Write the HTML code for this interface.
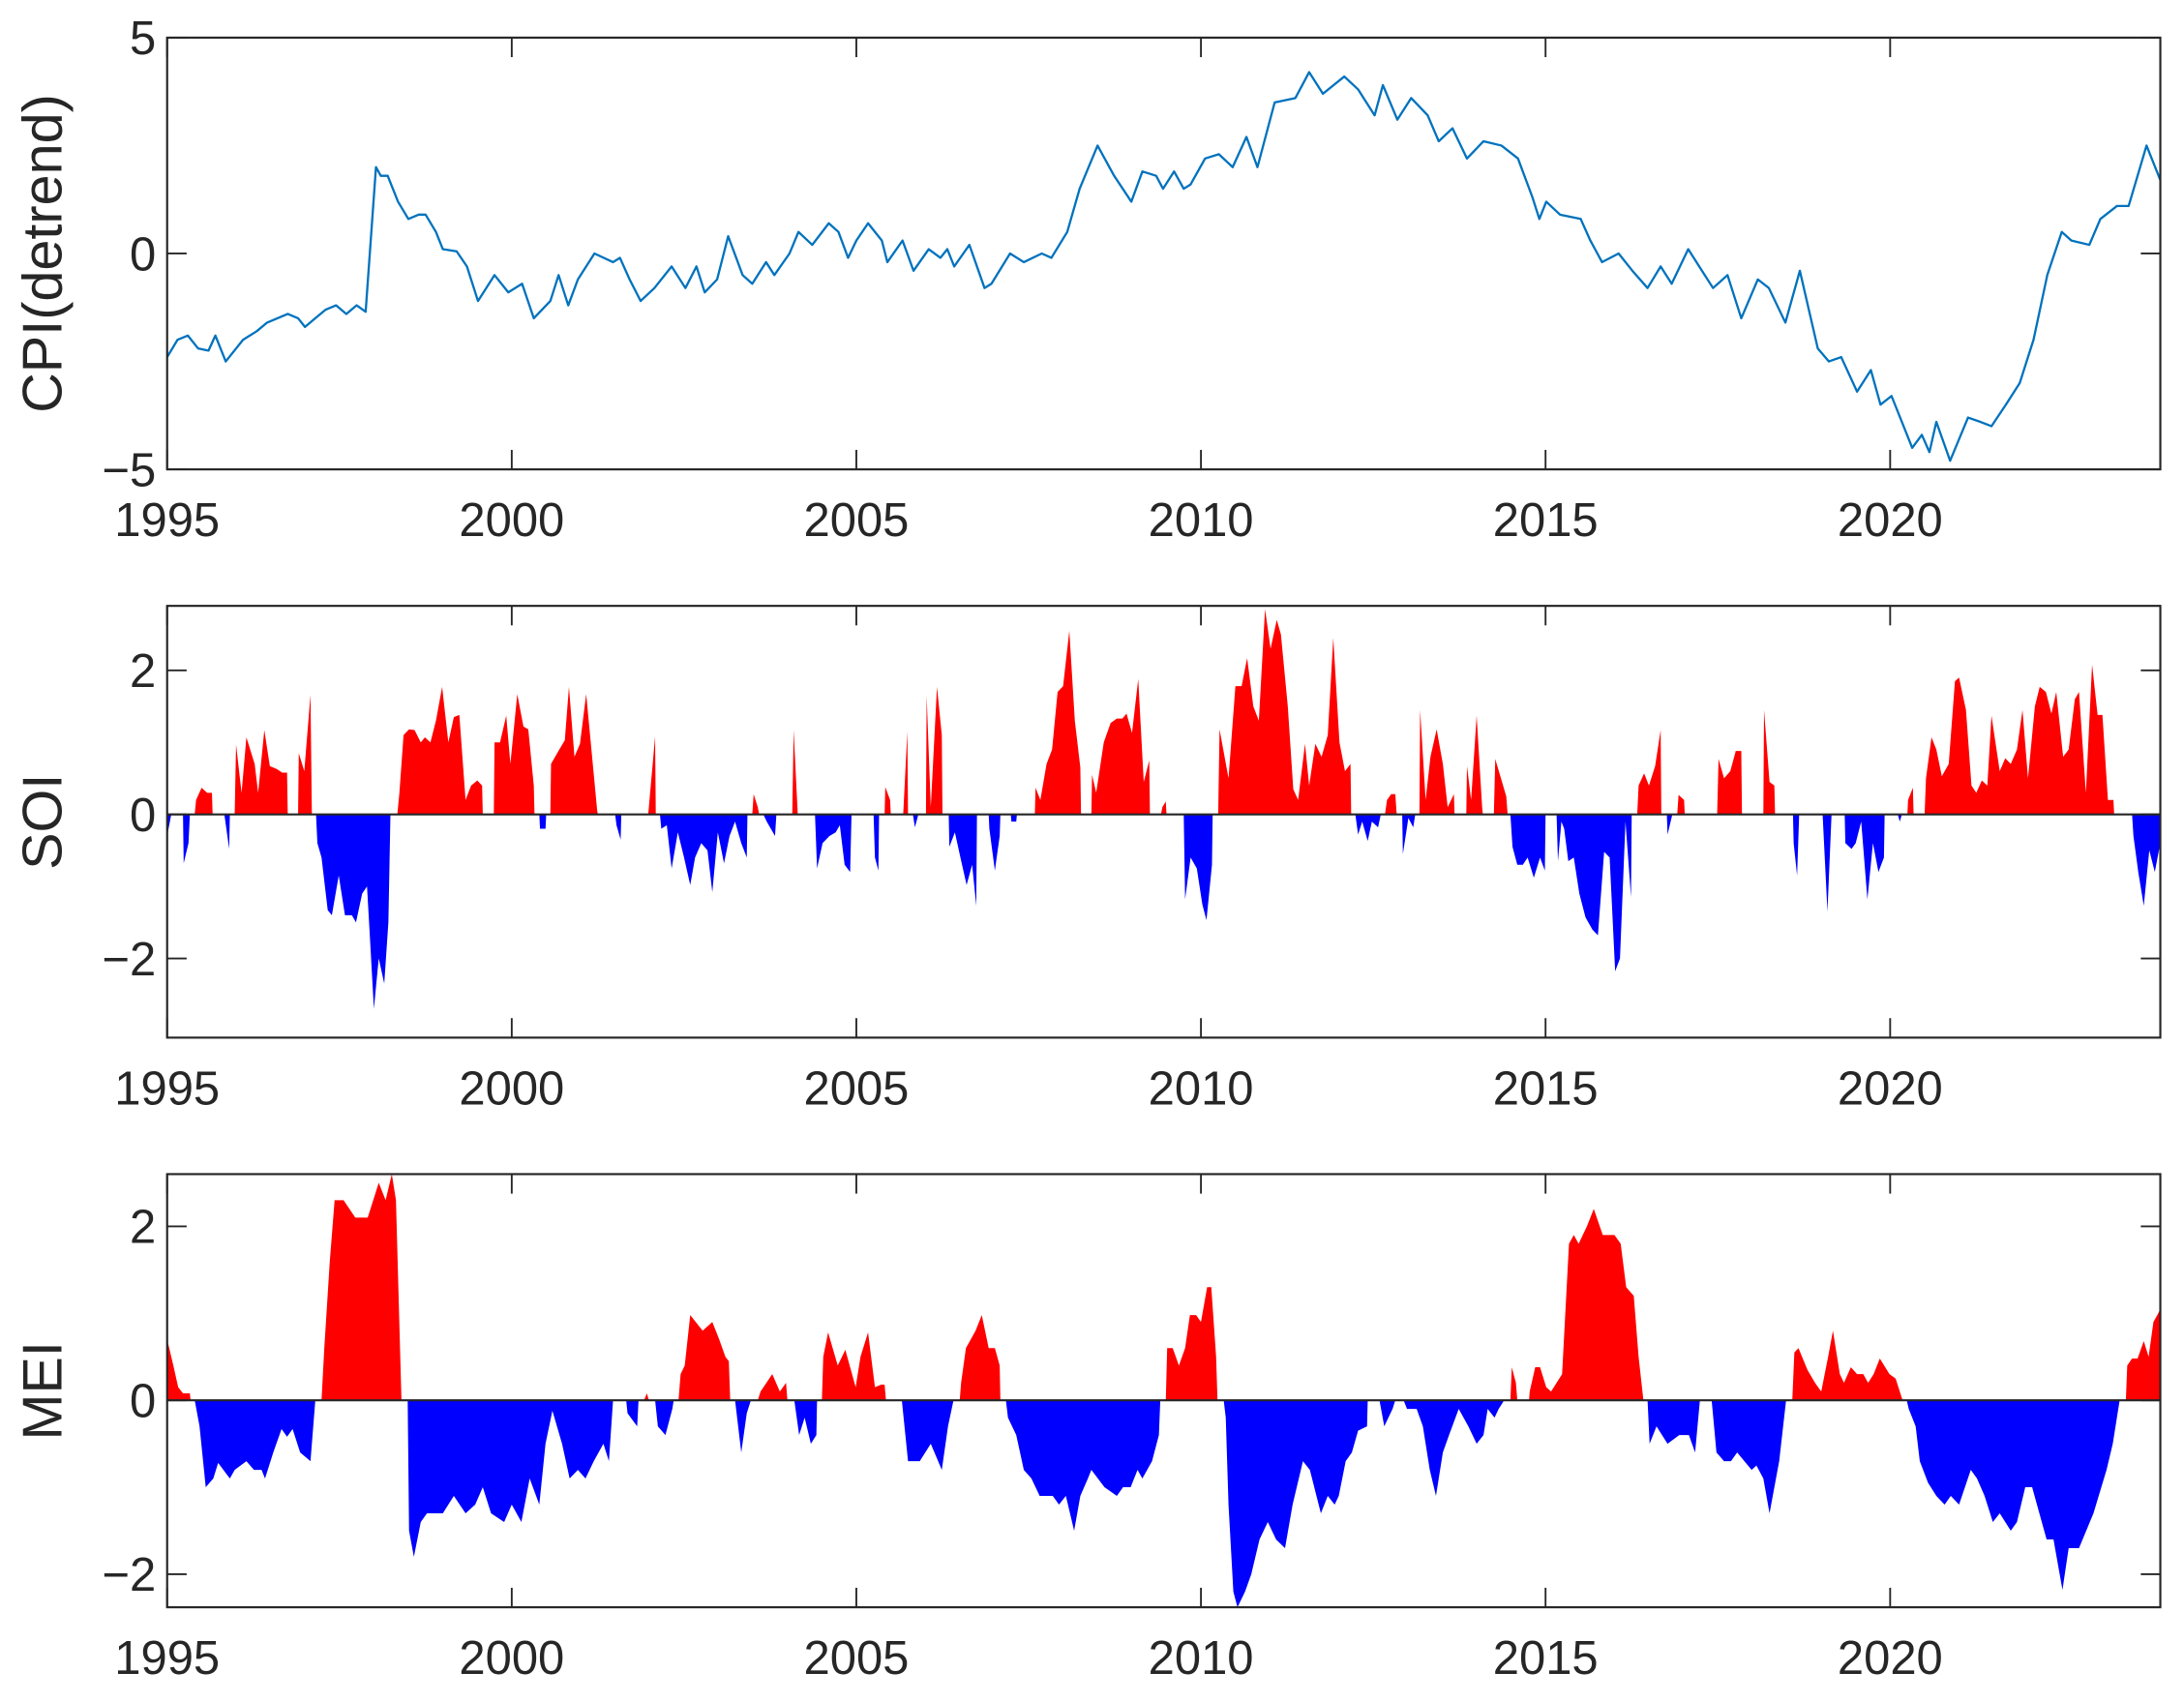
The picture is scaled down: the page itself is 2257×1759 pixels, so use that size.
<!DOCTYPE html>
<html><head><meta charset="utf-8"><title>CPI, SOI, MEI</title>
<style>
html,body{margin:0;padding:0;background:#fff;}
svg{display:block;}
text{font-family:"Liberation Sans",Arial,sans-serif;fill:#262626;}
</style></head>
<body>
<svg id="chart" width="2257" height="1759" viewBox="0 0 1568 1222" xmlns="http://www.w3.org/2000/svg"></svg>
<script>
// ---- data ----
const xTickYears = [1995, 2000, 2005, 2010, 2015, 2020];
const cpiTicks = [-5, 0, 5];
const soiTicks = [-2, 0, 2];
const meiTicks = [-2, 0, 2];

const cpiYears = [1995.00,1995.15,1995.30,1995.45,1995.60,1995.70,1995.85,1996.00,1996.10,1996.30,1996.45,1996.60,1996.75,1996.90,1997.00,1997.15,1997.30,1997.45,1997.60,1997.75,1997.88,1998.03,1998.10,1998.20,1998.35,1998.50,1998.65,1998.75,1998.90,1999.00,1999.20,1999.35,1999.51,1999.75,1999.95,2000.15,2000.32,2000.56,2000.68,2000.82,2000.96,2001.20,2001.47,2001.57,2001.71,2001.87,2002.07,2002.32,2002.52,2002.68,2002.80,2002.98,2003.14,2003.35,2003.49,2003.69,2003.81,2004.03,2004.16,2004.36,2004.60,2004.74,2004.88,2005.00,2005.17,2005.37,2005.45,2005.67,2005.83,2006.05,2006.22,2006.32,2006.42,2006.64,2006.86,2006.96,2007.23,2007.43,2007.69,2007.83,2008.06,2008.24,2008.50,2008.74,2008.99,2009.15,2009.35,2009.45,2009.61,2009.75,2009.85,2010.06,2010.26,2010.46,2010.66,2010.82,2011.07,2011.37,2011.57,2011.77,2012.08,2012.28,2012.52,2012.64,2012.85,2013.05,2013.29,2013.45,2013.65,2013.86,2014.10,2014.36,2014.60,2014.81,2014.91,2015.01,2015.21,2015.51,2015.65,2015.82,2016.06,2016.26,2016.48,2016.67,2016.83,2017.07,2017.27,2017.43,2017.64,2017.84,2018.08,2018.24,2018.48,2018.69,2018.95,2019.11,2019.29,2019.52,2019.72,2019.86,2020.02,2020.32,2020.46,2020.57,2020.67,2020.87,2021.13,2021.31,2021.47,2021.68,2021.88,2022.08,2022.28,2022.49,2022.63,2022.89,2023.05,2023.29,2023.46,2023.72,2023.92];
const cpiValues = [-2.4,-2.0,-1.9,-2.2,-2.25,-1.9,-2.5,-2.2,-2.0,-1.8,-1.6,-1.5,-1.4,-1.5,-1.7,-1.5,-1.3,-1.2,-1.4,-1.2,-1.35,2.0,1.8,1.8,1.2,0.8,0.9,0.9,0.5,0.1,0.05,-0.3,-1.1,-0.5,-0.9,-0.7,-1.5,-1.1,-0.5,-1.2,-0.6,0.0,-0.2,-0.1,-0.6,-1.1,-0.8,-0.3,-0.8,-0.3,-0.9,-0.6,0.4,-0.5,-0.7,-0.2,-0.5,0.0,0.5,0.2,0.7,0.5,-0.1,0.3,0.7,0.3,-0.2,0.3,-0.4,0.1,-0.1,0.1,-0.3,0.2,-0.8,-0.7,0.0,-0.2,0.0,-0.1,0.5,1.5,2.5,1.8,1.2,1.9,1.8,1.5,1.9,1.5,1.6,2.2,2.3,2.0,2.7,2.0,3.5,3.6,4.2,3.7,4.1,3.8,3.2,3.9,3.1,3.6,3.2,2.6,2.9,2.2,2.6,2.5,2.2,1.3,0.8,1.2,0.9,0.8,0.3,-0.2,0.0,-0.4,-0.8,-0.3,-0.7,0.1,-0.4,-0.8,-0.5,-1.5,-0.6,-0.8,-1.6,-0.4,-2.2,-2.5,-2.4,-3.2,-2.7,-3.5,-3.3,-4.5,-4.2,-4.6,-3.9,-4.8,-3.8,-3.9,-4.0,-3.5,-3.0,-2.0,-0.5,0.5,0.3,0.2,0.8,1.1,1.1,2.5,1.7];

const soiYears = [1995.00,1995.06,1995.23,1995.24,1995.31,1995.33,1995.40,1995.42,1995.50,1995.58,1995.65,1995.66,1995.83,1995.90,1995.91,1995.98,1996.00,1996.08,1996.15,1996.27,1996.32,1996.41,1996.49,1996.59,1996.67,1996.74,1996.75,1996.90,1996.91,1996.99,1997.08,1997.10,1997.16,1997.18,1997.24,1997.33,1997.39,1997.49,1997.58,1997.68,1997.74,1997.83,1997.90,1997.93,1998.00,1998.07,1998.15,1998.21,1998.24,1998.34,1998.37,1998.43,1998.51,1998.59,1998.68,1998.74,1998.82,1998.90,1998.99,1999.08,1999.16,1999.24,1999.33,1999.41,1999.50,1999.57,1999.58,1999.74,1999.75,1999.83,1999.92,1999.98,2000.08,2000.17,2000.24,2000.32,2000.33,2000.40,2000.41,2000.49,2000.50,2000.56,2000.57,2000.69,2000.77,2000.83,2000.91,2000.99,2001.08,2001.24,2001.25,2001.50,2001.52,2001.58,2001.59,2001.98,2002.08,2002.09,2002.15,2002.17,2002.25,2002.32,2002.41,2002.50,2002.59,2002.66,2002.75,2002.84,2002.91,2002.99,2003.08,2003.16,2003.24,2003.33,2003.41,2003.42,2003.49,2003.51,2003.57,2003.59,2003.65,2003.70,2003.82,2003.84,2004.07,2004.09,2004.15,2004.40,2004.43,2004.51,2004.61,2004.70,2004.76,2004.83,2004.91,2004.93,2005.25,2005.27,2005.32,2005.33,2005.41,2005.42,2005.49,2005.50,2005.68,2005.74,2005.75,2005.82,2005.85,2005.90,2006.01,2006.02,2006.08,2006.17,2006.24,2006.25,2006.34,2006.35,2006.43,2006.51,2006.60,2006.68,2006.74,2006.75,2006.92,2006.93,2007.01,2007.08,2007.09,2007.24,2007.25,2007.32,2007.33,2007.59,2007.60,2007.67,2007.76,2007.84,2007.92,2008.00,2008.09,2008.17,2008.25,2008.26,2008.41,2008.42,2008.48,2008.59,2008.69,2008.78,2008.86,2008.92,2009.00,2009.09,2009.17,2009.25,2009.26,2009.42,2009.44,2009.49,2009.50,2009.75,2009.77,2009.85,2009.94,2010.02,2010.08,2010.16,2010.17,2010.25,2010.27,2010.40,2010.50,2010.59,2010.67,2010.76,2010.84,2010.93,2011.01,2011.10,2011.16,2011.26,2011.34,2011.41,2011.51,2011.57,2011.66,2011.75,2011.84,2011.92,2012.01,2012.09,2012.17,2012.18,2012.24,2012.28,2012.34,2012.42,2012.48,2012.57,2012.61,2012.67,2012.70,2012.76,2012.82,2012.84,2012.92,2012.93,2013.01,2013.08,2013.11,2013.17,2013.18,2013.26,2013.33,2013.42,2013.51,2013.58,2013.67,2013.68,2013.85,2013.86,2013.92,2014.00,2014.08,2014.09,2014.25,2014.27,2014.43,2014.45,2014.49,2014.52,2014.59,2014.67,2014.74,2014.83,2014.92,2014.99,2015.00,2015.16,2015.18,2015.23,2015.27,2015.33,2015.41,2015.49,2015.58,2015.68,2015.76,2015.85,2015.93,2016.01,2016.08,2016.16,2016.24,2016.25,2016.33,2016.35,2016.43,2016.50,2016.59,2016.67,2016.68,2016.76,2016.77,2016.84,2016.91,2016.93,2017.01,2017.02,2017.49,2017.51,2017.59,2017.68,2017.76,2017.84,2017.85,2018.16,2018.17,2018.25,2018.32,2018.33,2018.59,2018.60,2018.65,2018.68,2019.02,2019.09,2019.15,2019.34,2019.35,2019.44,2019.50,2019.58,2019.67,2019.75,2019.83,2019.91,2019.92,2020.11,2020.14,2020.17,2020.25,2020.26,2020.33,2020.34,2020.50,2020.52,2020.60,2020.67,2020.75,2020.85,2020.94,2021.00,2021.10,2021.18,2021.25,2021.33,2021.41,2021.47,2021.59,2021.67,2021.75,2021.84,2021.92,2022.00,2022.10,2022.17,2022.26,2022.34,2022.41,2022.51,2022.59,2022.68,2022.74,2022.84,2022.93,2023.01,2023.08,2023.16,2023.24,2023.25,2023.51,2023.53,2023.60,2023.68,2023.76,2023.84,2023.92];
const soiValues = [-0.3,0,0,-0.68,-0.4,0,0,0.2,0.37,0.3,0.3,0,0,-0.48,0,0,0.97,0.3,1.07,0.7,0.3,1.17,0.67,0.63,0.58,0.58,0,0,0.85,0.6,1.66,0,0,-0.4,-0.6,-1.33,-1.4,-0.85,-1.4,-1.4,-1.5,-1.1,-1.0,-1.5,-2.7,-2.0,-2.35,-1.5,0,0,0.3,1.1,1.18,1.17,1.0,1.07,1.0,1.3,1.77,1.0,1.35,1.38,0.2,0.4,0.47,0.4,0,0,1.0,1.0,1.37,0.7,1.67,1.22,1.18,0.4,0,0,-0.2,-0.2,0,0,0.7,0.9,1.03,1.77,0.8,0.98,1.67,0.05,0,0,-0.15,-0.35,0,0,1.08,0,0,-0.2,-0.15,-0.75,-0.25,-0.6,-0.98,-0.6,-0.4,-0.5,-1.08,-0.25,-0.68,-0.3,-0.1,-0.4,-0.6,0,0,0.28,0.1,0,0,-0.1,-0.3,0,0,1.17,0,0,-0.75,-0.4,-0.3,-0.25,-0.15,-0.7,-0.8,0,0,-0.6,-0.78,0,0,0.38,0.2,0,0,1.15,0,0,-0.18,0,0,1.65,0.1,1.77,1.1,0,0,-0.45,-0.25,-0.6,-0.98,-0.7,-1.27,0,0,-0.2,-0.78,-0.3,0,0,-0.1,-0.1,0,0,0.37,0.2,0.7,0.9,1.7,1.78,2.55,1.3,0.65,0,0,0.55,0.3,1.0,1.27,1.33,1.33,1.4,1.13,1.88,0.45,0.75,0,0,0.1,0.18,0,0,-1.18,-0.6,-0.75,-1.25,-1.47,-0.7,0,0,1.18,0.5,1.78,1.78,2.17,1.5,1.3,2.85,2.3,2.7,2.5,1.5,0.35,0.2,0.98,0.4,0.98,0.8,1.1,2.45,1.0,0.6,0.7,0,0,-0.28,-0.1,-0.37,-0.1,-0.18,0,0,0.2,0.28,0.28,0,0,-0.55,-0.05,-0.18,0,0,1.45,0.2,0.8,1.18,0.7,0.1,0.28,0,0,0.67,0.2,1.37,0.1,0,0,0.77,0.25,0,0,-0.45,-0.7,-0.7,-0.6,-0.88,-0.6,-0.78,0,0,-0.65,-0.1,-0.2,-0.65,-0.6,-1.1,-1.43,-1.6,-1.68,-0.52,-0.6,-2.18,-2.0,-0.1,-1.15,0,0,0.4,0.57,0.4,0.67,1.17,0,0,-0.28,0,0,0.27,0.2,0,0,0.77,0.5,0.6,0.88,0.88,0,0,1.45,0.45,0.4,0,0,-0.4,-0.85,0,0,-1.35,0,0,-0.4,-0.48,-0.4,-0.1,-1.18,-0.4,-0.8,-0.6,0,0,-0.1,0,0,0.2,0.37,0,0,0.5,1.07,0.9,0.53,0.7,1.85,1.9,1.45,0.4,0.3,0.47,0.4,1.37,0.6,0.78,0.7,0.9,1.45,0.5,1.5,1.77,1.7,1.4,1.7,0.8,0.9,1.6,1.7,0.3,2.08,1.38,1.38,0.2,0.2,0,0,-0.3,-0.8,-1.27,-0.5,-0.8,-0.4];

const meiYears = [1995.00,1995.09,1995.16,1995.23,1995.33,1995.34,1995.40,1995.47,1995.56,1995.67,1995.74,1995.91,1995.98,1996.15,1996.26,1996.37,1996.42,1996.54,1996.66,1996.74,1996.82,1996.93,1997.08,1997.15,1997.24,1997.28,1997.36,1997.43,1997.56,1997.73,1997.91,1998.07,1998.17,1998.26,1998.32,1998.40,1998.49,1998.51,1998.58,1998.68,1998.77,1999.00,1999.16,1999.33,1999.47,1999.58,1999.70,1999.89,2000.00,2000.14,2000.26,2000.40,2000.49,2000.59,2000.73,2000.84,2000.96,2001.07,2001.19,2001.33,2001.41,2001.47,2001.66,2001.68,2001.82,2001.84,2001.92,2001.96,2001.99,2002.08,2002.12,2002.23,2002.33,2002.35,2002.42,2002.45,2002.51,2002.59,2002.77,2002.91,2003.01,2003.10,2003.15,2003.17,2003.24,2003.33,2003.41,2003.47,2003.57,2003.61,2003.78,2003.89,2003.98,2004.00,2004.10,2004.17,2004.25,2004.34,2004.42,2004.43,2004.50,2004.52,2004.59,2004.73,2004.84,2004.99,2005.06,2005.17,2005.27,2005.36,2005.41,2005.43,2005.66,2005.75,2005.92,2006.08,2006.24,2006.33,2006.41,2006.50,2006.52,2006.59,2006.73,2006.82,2006.92,2007.01,2007.08,2007.09,2007.17,2007.20,2007.32,2007.43,2007.54,2007.66,2007.85,2007.94,2008.04,2008.16,2008.25,2008.36,2008.41,2008.60,2008.78,2008.87,2008.98,2009.08,2009.15,2009.29,2009.39,2009.41,2009.49,2009.51,2009.59,2009.68,2009.77,2009.84,2009.93,2010.00,2010.09,2010.15,2010.22,2010.24,2010.33,2010.36,2010.40,2010.47,2010.53,2010.64,2010.73,2010.85,2010.97,2011.09,2011.22,2011.33,2011.39,2011.48,2011.58,2011.74,2011.84,2011.94,2012.00,2012.10,2012.19,2012.28,2012.41,2012.42,2012.59,2012.66,2012.78,2012.82,2012.94,2012.99,2013.13,2013.22,2013.32,2013.41,2013.51,2013.60,2013.74,2013.88,2014.00,2014.10,2014.16,2014.26,2014.32,2014.40,2014.49,2014.51,2014.57,2014.59,2014.76,2014.77,2014.85,2014.92,2015.01,2015.08,2015.24,2015.34,2015.41,2015.48,2015.60,2015.70,2015.83,2016.00,2016.09,2016.17,2016.28,2016.35,2016.42,2016.48,2016.51,2016.61,2016.77,2016.94,2017.08,2017.17,2017.24,2017.41,2017.48,2017.59,2017.69,2017.78,2017.99,2018.06,2018.16,2018.25,2018.39,2018.49,2018.58,2018.61,2018.67,2018.80,2018.91,2019.00,2019.10,2019.17,2019.27,2019.33,2019.43,2019.52,2019.61,2019.68,2019.76,2019.85,2019.99,2020.08,2020.18,2020.24,2020.27,2020.37,2020.43,2020.55,2020.67,2020.79,2020.88,2021.00,2021.17,2021.26,2021.37,2021.49,2021.59,2021.75,2021.84,2021.96,2022.06,2022.27,2022.37,2022.50,2022.59,2022.74,2022.95,2023.14,2023.23,2023.33,2023.42,2023.44,2023.51,2023.59,2023.68,2023.75,2023.82,2023.89,2023.92];
const meiValues = [0.7,0.4,0.15,0.08,0.08,0,0,-0.3,-1.0,-0.9,-0.72,-0.9,-0.8,-0.7,-0.8,-0.8,-0.9,-0.6,-0.33,-0.42,-0.33,-0.6,-0.7,0,0,0.6,1.6,2.3,2.3,2.1,2.1,2.5,2.3,2.6,2.3,0,0,-1.5,-1.8,-1.4,-1.3,-1.3,-1.1,-1.3,-1.2,-1.0,-1.3,-1.4,-1.2,-1.4,-0.9,-1.2,-0.5,-0.12,-0.5,-0.9,-0.8,-0.9,-0.7,-0.5,-0.7,0,0,-0.15,-0.3,0,0,0.08,0,0,-0.3,-0.4,-0.1,0,0,0.3,0.4,0.98,0.8,0.9,0.7,0.5,0.45,0,0,-0.6,-0.15,0,0,0.1,0.3,0.1,0.2,0,0,-0.4,-0.2,-0.5,-0.4,0,0,0.5,0.78,0.4,0.58,0.15,0.5,0.78,0.15,0.18,0.18,0,0,-0.7,-0.7,-0.5,-0.8,-0.3,0,0,0.2,0.6,0.8,0.98,0.6,0.6,0.4,0,0,-0.2,-0.4,-0.8,-0.9,-1.1,-1.1,-1.2,-1.1,-1.5,-1.1,-0.9,-0.8,-1.0,-1.1,-1.0,-1.0,-0.8,-0.9,-0.7,-0.4,0,0,0.6,0.6,0.4,0.6,0.98,0.98,0.9,1.3,1.3,0.5,0,0,-0.2,-1.2,-2.2,-2.38,-2.2,-2.0,-1.6,-1.4,-1.6,-1.7,-1.2,-1.0,-0.7,-0.8,-1.3,-1.1,-1.2,-1.1,-0.7,-0.6,-0.35,-0.3,0,0,-0.3,-0.1,0,0,-0.1,-0.1,-0.3,-0.8,-1.1,-0.6,-0.4,-0.1,-0.3,-0.5,-0.4,-0.1,-0.2,-0.1,0,0,0.38,0.2,0,0,0.1,0.38,0.38,0.15,0.1,0.3,1.8,1.9,1.8,2.0,2.2,1.9,1.9,1.8,1.3,1.2,0.5,0,0,-0.5,-0.3,-0.5,-0.4,-0.4,-0.6,0,0,-0.6,-0.7,-0.7,-0.6,-0.8,-0.75,-0.9,-1.3,-0.7,0,0,0.55,0.6,0.35,0.2,0.1,0.5,0.8,0.3,0.2,0.38,0.3,0.3,0.2,0.3,0.48,0.3,0.25,0,0,-0.1,-0.3,-0.7,-0.95,-1.1,-1.2,-1.1,-1.2,-0.8,-0.9,-1.1,-1.4,-1.3,-1.5,-1.4,-1.0,-1.0,-1.6,-1.6,-2.18,-1.7,-1.7,-1.3,-0.8,-0.5,0,0,0.4,0.48,0.48,0.68,0.5,0.9,1.0,1.05];

// ---- layout ----
const NS = 'http://www.w3.org/2000/svg';
const svg = document.getElementById('chart');
const X0 = 120, X1 = 1551, YR0 = 1995, YR1 = 2023.92;
function xScale(yr){ return X0 + (yr - YR0) / (YR1 - YR0) * (X1 - X0); }
function mk(tag, attrs, parent){
  const e = document.createElementNS(NS, tag);
  for (const k in attrs) e.setAttribute(k, attrs[k]);
  (parent || svg).appendChild(e);
  return e;
}
const panels = [
  {key:'cpi', top:27, bottom:337, vmin:-5, vmax:5, ticks:cpiTicks, title:'CPI(detrend)', years:cpiYears, values:cpiValues, kind:'line'},
  {key:'soi', top:435, bottom:745, vmin:-3.1, vmax:2.895, ticks:soiTicks, title:'SOI', years:soiYears, values:soiValues, kind:'fill'},
  {key:'mei', top:843, bottom:1154, vmin:-2.38, vmax:2.6, ticks:meiTicks, title:'MEI', years:meiYears, values:meiValues, kind:'fill'}
];
const defs = mk('defs', {});
panels.forEach(function(p){
  const yScale = function(v){ return p.bottom - (v - p.vmin) / (p.vmax - p.vmin) * (p.bottom - p.top); };
  const g = mk('g', {});
  
  
  mk('rect', {x:X0, y:p.top, width:X1-X0, height:p.bottom-p.top, fill:'#fff'}, g);

  if (p.kind === 'line'){
    let d = '';
    p.years.forEach(function(yr, i){ d += (i ? 'L' : 'M') + xScale(yr).toFixed(2) + ',' + yScale(p.values[i]).toFixed(2); });
    const path = mk('path', {d:d, fill:'none', stroke:'#0072BD', 'stroke-width':1.6, 'stroke-linejoin':'round'}, g);
    
    
  } else {
    const y0 = yScale(0);
    let d = 'M' + xScale(p.years[0]).toFixed(2) + ',' + y0.toFixed(2);
    p.years.forEach(function(yr, i){ d += 'L' + xScale(yr).toFixed(2) + ',' + yScale(p.values[i]).toFixed(2); });
    d += 'L' + xScale(p.years[p.years.length-1]).toFixed(2) + ',' + y0.toFixed(2) + 'Z';
    const cpU = mk('clipPath', {id:p.key+'-up'}, defs);
    mk('rect', {x:X0, y:p.top, width:X1-X0, height:y0-p.top}, cpU);
    const cpD = mk('clipPath', {id:p.key+'-down'}, defs);
    mk('rect', {x:X0, y:y0, width:X1-X0, height:p.bottom-y0}, cpD);
    const pos = mk('path', {d:d, fill:'#ff0000', 'clip-path':'url(#'+p.key+'-up)'}, g);
    
    
    const neg = mk('path', {d:d, fill:'#0000ff', 'clip-path':'url(#'+p.key+'-down)'}, g);
    
    
    const zl = mk('line', {x1:X0, x2:X1, y1:y0, y2:y0, stroke:'#262626', 'stroke-width':1.5}, g);
    
    
  }
  const frame = mk('rect', {x:X0, y:p.top, width:X1-X0, height:p.bottom-p.top, fill:'none', stroke:'#262626', 'stroke-width':1.5}, g);
  
  
  xTickYears.forEach(function(yr){
    const x = xScale(yr);
    mk('line', {x1:x, x2:x, y1:p.bottom, y2:p.bottom-14, stroke:'#262626', 'stroke-width':1.3}, g);
    mk('line', {x1:x, x2:x, y1:p.top, y2:p.top+14, stroke:'#262626', 'stroke-width':1.3}, g);
    const t = mk('text', {x:x, y:p.bottom+48, 'text-anchor':'middle', 'font-size':34}, g);
    t.textContent = String(yr);
    
    
  });
  p.ticks.forEach(function(v){
    const y = yScale(v);
    mk('line', {x1:X0, x2:X0+14, y1:y, y2:y, stroke:'#262626', 'stroke-width':1.3}, g);
    mk('line', {x1:X1, x2:X1-14, y1:y, y2:y, stroke:'#262626', 'stroke-width':1.3}, g);
    const t = mk('text', {x:X0-8, y:y+12, 'text-anchor':'end', 'font-size':34}, g);
    t.textContent = v < 0 ? '\u2212' + Math.abs(v) : String(v);
    
    
  });
  const cy = (p.top + p.bottom) / 2;
  const title = mk('text', {x:0, y:0, 'text-anchor':'middle', 'font-size':40, transform:'translate(44,' + cy + ') rotate(-90)'}, g);
  title.textContent = p.title;
  
  
});
</script>
</body></html>
